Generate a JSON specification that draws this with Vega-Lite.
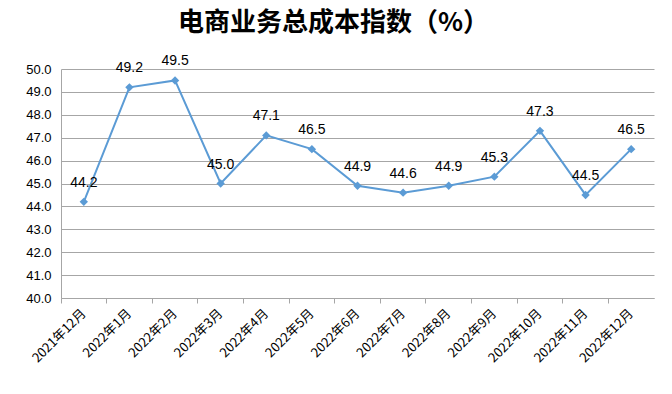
{
  "$schema": "https://vega.github.io/schema/vega-lite/v6.json",
  "width": 593,
  "height": 229,
  "autosize": {"type": "none"},
  "padding": {"left": 61, "top": 69, "right": 18, "bottom": 96},
  "background": "white",
  "title": {
    "text": "电商业务总成本指数（%）",
    "font": "Noto Sans CJK SC",
    "fontSize": 26,
    "fontWeight": "bold",
    "color": "#000000",
    "anchor": "middle",
    "dx": -24,
    "offset": 18
  },
  "data": {
    "values": [
      {"month": "2021年12月", "value": 44.2},
      {"month": "2022年1月", "value": 49.2},
      {"month": "2022年2月", "value": 49.5},
      {"month": "2022年3月", "value": 45.0},
      {"month": "2022年4月", "value": 47.1},
      {"month": "2022年5月", "value": 46.5},
      {"month": "2022年6月", "value": 44.9},
      {"month": "2022年7月", "value": 44.6},
      {"month": "2022年8月", "value": 44.9},
      {"month": "2022年9月", "value": 45.3},
      {"month": "2022年10月", "value": 47.3},
      {"month": "2022年11月", "value": 44.5},
      {"month": "2022年12月", "value": 46.5}
    ]
  },
  "encoding": {
    "x": {
      "field": "month",
      "type": "ordinal",
      "sort": null,
      "scale": {"type": "band", "paddingInner": 0, "paddingOuter": 0},
      "axis": {
        "title": null,
        "bandPosition": 0,
        "labelAngle": -45,
        "labelAlign": "right",
        "labelBaseline": "middle",
        "labelFont": "Noto Sans CJK SC",
        "labelFontSize": 13,
        "labelColor": "#000000",
        "labelPadding": 8,
        "labelOffset": 0,
        "domainColor": "#A6A6A6",
        "tickColor": "#A6A6A6",
        "tickSize": 5,
        "grid": false
      }
    },
    "y": {
      "field": "value",
      "type": "quantitative",
      "scale": {"domain": [40, 50], "nice": false, "zero": false},
      "axis": {
        "title": null,
        "values": [40, 41, 42, 43, 44, 45, 46, 47, 48, 49, 50],
        "format": ".1f",
        "labelFont": "Liberation Sans",
        "labelFontSize": 13,
        "labelColor": "#000000",
        "labelPadding": 10,
        "domainColor": "#A6A6A6",
        "ticks": false,
        "gridColor": "#A6A6A6",
        "gridWidth": 1
      }
    }
  },
  "layer": [
    {
      "mark": {"type": "line", "color": "#5B9BD5", "strokeWidth": 2, "bandPosition": 0.5}
    },
    {
      "mark": {"type": "point", "shape": "diamond", "filled": true, "color": "#5B9BD5", "opacity": 1, "size": 70, "bandPosition": 0.5}
    },
    {
      "mark": {"type": "text", "font": "Liberation Sans", "fontSize": 14, "color": "#000000", "baseline": "bottom", "dy": -12, "bandPosition": 0.5},
      "encoding": {"text": {"field": "value", "type": "quantitative", "format": ".1f"}}
    }
  ],
  "config": {"view": {"stroke": null}}
}
